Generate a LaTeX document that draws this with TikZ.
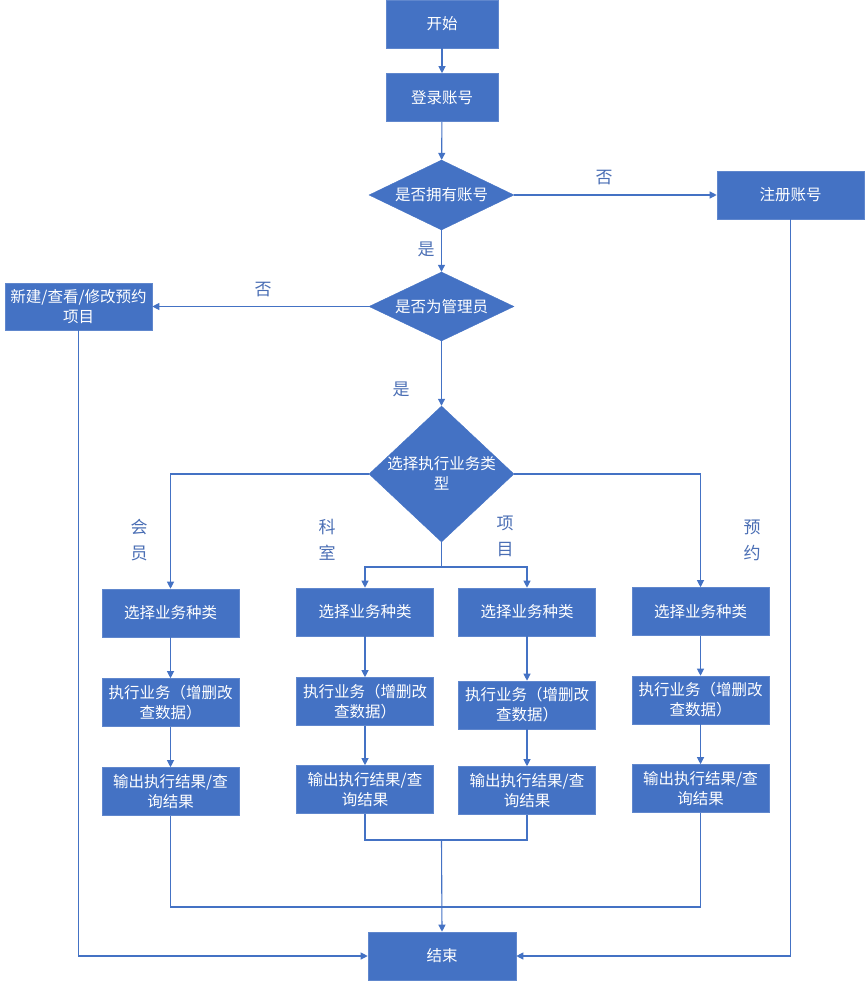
\documentclass[tikz,border=0pt]{standalone}
\usepackage{fontspec}
\newfontfamily\cjk{Noto Sans CJK SC}
\usetikzlibrary{arrows.meta,shapes.geometric}
\definecolor{flowblue}{RGB}{68,114,196}
\definecolor{labelblue}{RGB}{74,110,180}
\begin{document}
\begin{tikzpicture}[x=1pt,y=-1pt,
  box/.style={rectangle, fill=flowblue, draw=flowblue!85!white, line width=0.6pt,
    text=white, align=center, inner sep=0pt, minimum height=48pt,
    font=\cjk\fontsize{15.5}{20}\selectfont},
  colbox/.style={box, minimum width=137pt},
  dia/.style={diamond, fill=flowblue, draw=flowblue, inner sep=0pt, aspect=2},
  dlabel/.style={text=white, align=center, font=\cjk\fontsize{15.5}{20}\selectfont},
  note/.style={text=labelblue, font=\cjk\fontsize{17}{26}\selectfont, align=center},
  link/.style={draw=flowblue, line width=1.1pt},
  arr/.style={link, -{Triangle[length=7pt,width=7pt]}}
]
\useasboundingbox (0,0) rectangle (866,981);

% main spine
\node[box, minimum width=112pt] (start) at (442,24) {开始};
\node[box, minimum width=112pt] (login) at (442,97.5) {登录账号};
\node[dia, minimum width=145pt, minimum height=70pt] (hasacc) at (441.5,195) {};
\node[dlabel] at (hasacc) {是否拥有账号};
\node[box, minimum width=147pt] (reg) at (790.5,195) {注册账号};
\node[dia, minimum width=145pt, minimum height=69pt] (admin) at (441.5,306.5) {};
\node[dlabel] at (admin) {是否为管理员};
\node[box, minimum width=147pt, minimum height=47pt] (booking) at (78.5,306.5) {新建/查看/修改预约\\项目};
\node[dia, minimum width=145pt, minimum height=136pt] (kind) at (441.5,474) {};
\node[dlabel] at (441.5,473) {选择执行业务类\\型};
\node[box, minimum width=148pt] (stop) at (442,956) {结束};

% four business columns
\node[colbox] (m1) at (170.5,613) {选择业务种类};
\node[colbox] (m2) at (170.5,702.5) {执行业务（增删改\\查数据）};
\node[colbox] (m3) at (170.5,791.5) {输出执行结果/查\\询结果};

\node[colbox] (k1) at (365,612) {选择业务种类};
\node[colbox] (k2) at (365,701.5) {执行业务（增删改\\查数据）};
\node[colbox] (k3) at (365,789.5) {输出执行结果/查\\询结果};

\node[colbox] (p1) at (527,612) {选择业务种类};
\node[colbox] (p2) at (527,705) {执行业务（增删改\\查数据）};
\node[colbox] (p3) at (527,790.5) {输出执行结果/查\\询结果};

\node[colbox] (y1) at (700.5,611.5) {选择业务种类};
\node[colbox] (y2) at (700.5,700) {执行业务（增删改\\查数据）};
\node[colbox] (y3) at (700.5,788.5) {输出执行结果/查\\询结果};

% branch labels
\node[note] at (604,178) {否};
\node[note] at (426,249) {是};
\node[note] at (263,290) {否};
\node[note] at (401,389) {是};
\node[note] at (139,540) {会\\员};
\node[note] at (327,540) {科\\室};
\node[note] at (505,536) {项\\目};
\node[note] at (752,540) {预\\约};

% junction points
\coordinate (split) at (441.5,567);
\coordinate (merge) at (441.5,840);
\coordinate (bottomrail) at (441.5,907);

% connectors
\draw[arr] (start) -- (login);
\draw[arr] (login) -- (hasacc);
\draw[arr] (hasacc) -- (reg);
\draw[arr] (hasacc) -- (admin);
\draw[arr] (admin) -- (booking);
\draw[arr] (admin) -- (kind);
\draw[arr] (kind.west) -| (m1.north);
\draw[arr] (kind.east) -| (y1.north);
\draw[link] (kind.south) -- (split);
\draw[arr] (split) -| (k1.north);
\draw[arr] (split) -| (p1.north);

\draw[arr] (m1) -- (m2);
\draw[arr] (m2) -- (m3);
\draw[arr] (k1) -- (k2);
\draw[arr] (k2) -- (k3);
\draw[arr] (p1) -- (p2);
\draw[arr] (p2) -- (p3);
\draw[arr] (y1) -- (y2);
\draw[arr] (y2) -- (y3);

\draw[link] (k3.south) |- (merge) -| (p3.south);
\draw[link] (m3.south) |- (bottomrail) -| (y3.south);
\draw[arr] (merge) -- (stop.north);
\draw[arr] (booking.south) |- (stop.west);
\draw[arr] (reg.south) |- (stop.east);
\end{tikzpicture}
\end{document}
